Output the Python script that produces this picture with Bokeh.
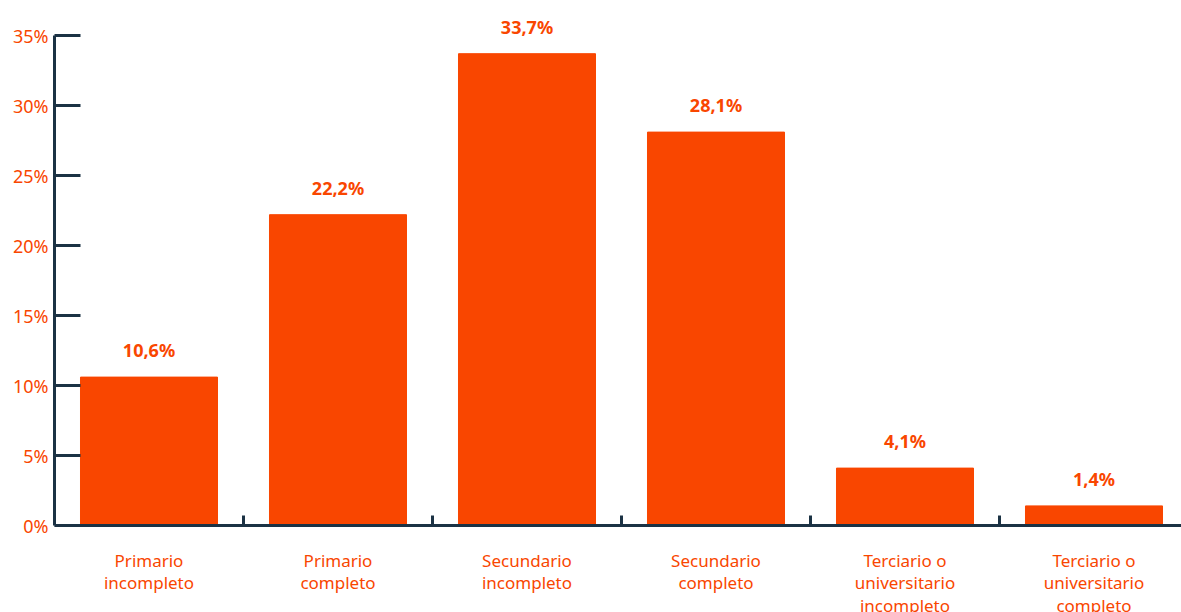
from bokeh.plotting import figure
from bokeh.models import FixedTicker, Range1d, Span
from bokeh.core.properties import value
from bokeh.embed import file_html
from bokeh.resources import INLINE

categories = ["Primario\nincompleto", "Primario\ncompleto", "Secundario\nincompleto",
              "Secundario\ncompleto", "Terciario o\nuniversitario\nincompleto",
              "Terciario o\nuniversitario\ncompleto"]
values = [10.6, 22.2, 33.7, 28.1, 4.1, 1.4]
y_ticks = [0, 5, 10, 15, 20, 25, 30, 35]

ORANGE = "#F94600"
NAVY = "#1B3244"
FONT = "Noto Sans"

n = len(categories)
centers = [i + 0.5 for i in range(n)]
labels = [f"{v:.1f}".replace(".", ",") + "%" for v in values]

W, H = 1181, 612
LEFT = 54
AXIS_Y = 525   # pixel row of the zero line
PX_PER_UNIT = 14
p = figure(width=W, height=H, output_backend="svg", toolbar_location=None,
           x_range=Range1d(0, (W - LEFT) / 189),
           y_range=Range1d(-(H - AXIS_Y) / PX_PER_UNIT, AXIS_Y / PX_PER_UNIT),
           min_border_left=LEFT, min_border_right=0, min_border_top=0, min_border_bottom=0)
p.outline_line_color = None
p.xgrid.grid_line_color = None
p.ygrid.grid_line_color = None
p.xaxis.visible = False
p.background_fill_color = "white"

p.vbar(x=centers, top=values, width=0.725, color=ORANGE)
p.text(x=centers, y=values, text=labels, text_align="center", text_baseline="bottom",
       y_offset=-15, text_color=ORANGE, text_font=value(FONT), text_font_style="bold",
       text_font_size="18px")

# zero line (x axis)
p.add_layout(Span(location=0, dimension="width", line_color=NAVY, line_width=3))

# category boundary ticks (pointing up)
bounds = list(range(1, n))
p.segment(x0=bounds, y0=[0] * len(bounds), x1=bounds, y1=[10 / PX_PER_UNIT] * len(bounds),
          line_color=NAVY, line_width=3)

# category labels below the zero line
p.text(x=centers, y=[0] * n, text=categories, text_align="center", text_baseline="top",
       y_offset=23, text_color=ORANGE, text_font=value(FONT), text_font_size="17px",
       text_line_height=0.98)

ya = p.yaxis[0]
ya.ticker = FixedTicker(ticks=y_ticks)
ya.major_label_overrides = {t: f"{t}%" for t in y_ticks}
ya.bounds = (0, 35)
ya.major_tick_in = 26
ya.major_tick_out = 0
ya.major_tick_line_color = NAVY
ya.major_tick_line_width = 3
ya.minor_tick_line_color = None
ya.axis_line_color = NAVY
ya.axis_line_width = 3
ya.major_label_text_color = ORANGE
ya.major_label_text_font = FONT
ya.major_label_text_font_size = "18px"
ya.major_label_standoff = 6

open("out.html", "w").write(file_html(p, INLINE))
